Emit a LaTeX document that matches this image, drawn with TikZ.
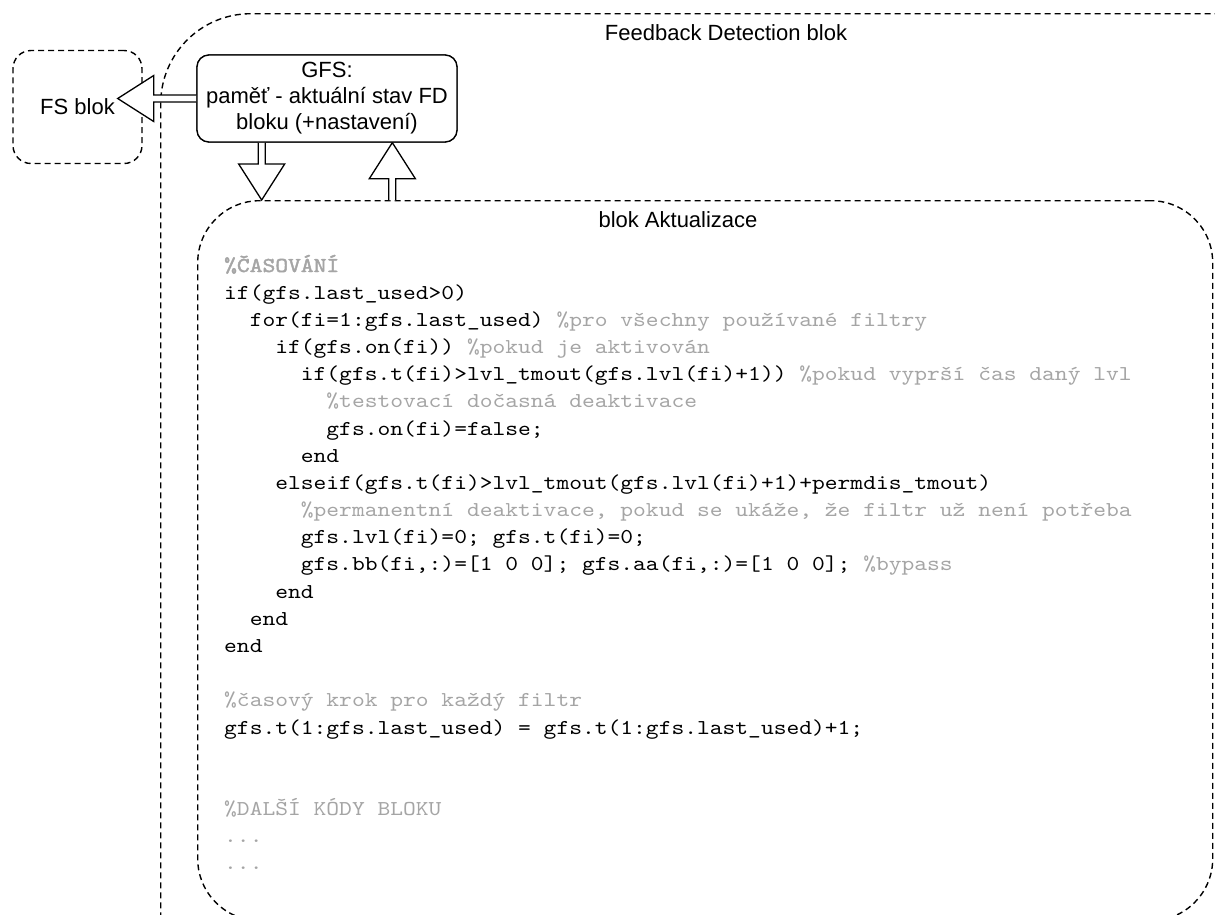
\documentclass[tikz,border=0pt]{standalone}
\usepackage{fontspec}
\setmainfont{Liberation Sans}
\newfontfamily\codefont{lmmono10-regular.otf}[FakeStretch=1.15, AutoFakeBold=2]
\usetikzlibrary{calc}

\definecolor{cmtgray}{RGB}{165,165,165}
\newcommand\cmt[1]{\textcolor{cmtgray}{#1}}

\tikzset{
  dashbox/.style={draw, line width=1.4pt, dash pattern=on 6pt off 4pt,
    rounded corners=#1, inner sep=0pt},
  dashbox/.default=15pt,
  memorybox/.style={draw, line width=1.3pt, rounded corners=12pt, fill=white,
    minimum width=260pt, minimum height=87pt, inner sep=0pt, align=center,
    font=\fontsize{22}{26}\selectfont},
  lbl/.style={inner sep=0pt, font=\fontsize{22}{26}\selectfont},
  codeln/.style={inner sep=0pt, anchor=base west,
    font=\codefont\fontsize{21.17}{27}\selectfont},
  flexarrow/.style={fill=white, draw=black, line width=1.3pt, line join=miter},
}

% hollow block arrow from #1 to the tip #2
\newcommand\flexarrow[2]{%
  \coordinate (fa-h) at ($(#2)!36pt!(#1)$);
  \path[flexarrow]
    ($(#1)!3.5pt!90:(#2)$) --
    ($(fa-h)!3.5pt!-90:(#1)$) --
    ($(fa-h)!23pt!-90:(#1)$) --
    (#2) --
    ($(fa-h)!23pt!90:(#1)$) --
    ($(fa-h)!3.5pt!90:(#1)$) --
    ($(#1)!3.5pt!-90:(#2)$);
}

% one line of code: name, line number, indentation (characters), text
\newcommand\codeline[4]{%
  \node[codeln] (#1) at (224+12.78*#3, 272+27.18*#2) {#4};
}

\begin{document}
\begin{tikzpicture}[x=1pt, y=-1pt]
  \useasboundingbox (0,0) rectangle (1215,914);
  \clip (0,0) rectangle (1215,914);

  % containers
  \node[dashbox=90pt, anchor=north west, minimum width=1150pt, minimum height=1000pt]
    (fd) at (160,13) {};
  \node[lbl, anchor=base] (fd-label) at (726,40) {Feedback Detection blok};

  \node[dashbox=18pt, minimum width=129pt, minimum height=113pt, lbl]
    (fs) at (77.5,107) {FS blok};

  \node[dashbox=62pt, anchor=north west, minimum width=1015pt, minimum height=720pt]
    (akt) at (197,200) {};
  \node[lbl, anchor=base] (akt-label) at (678,227) {blok Aktualizace};

  % shared memory
  \node[memorybox] (gfs) at (327,98.5)
    {GFS:\\paměť - aktuální stav FD\\bloku (+nastavení)};

  % data flow
  \coordinate (fs-in) at ($(fs.east |- gfs.west)+(-25,0)$);
  \flexarrow{gfs.west}{fs-in}

  \coordinate (down-from) at ($(gfs.south west)!0.25!(gfs.south east)$);
  \coordinate (down-to) at (down-from |- akt.north);
  \flexarrow{down-from}{down-to}

  \coordinate (up-to) at ($(gfs.south west)!0.75!(gfs.south east)$);
  \coordinate (up-from) at (up-to |- akt.north);
  \flexarrow{up-from}{up-to}

  \node[memorybox] at (gfs) {GFS:\\paměť - aktuální stav FD\\bloku (+nastavení)};

  % update code
  \codeline{c0}{0}{0}{\cmt{\textbf{\%ČASOVÁNÍ}}}
  \codeline{c1}{1}{0}{if(gfs.last\_used>0)}
  \codeline{c2}{2}{2}{for(fi=1:gfs.last\_used) \cmt{\%pro všechny používané filtry}}
  \codeline{c3}{3}{4}{if(gfs.on(fi)) \cmt{\%pokud je aktivován}}
  \codeline{c4}{4}{6}{if(gfs.t(fi)>lvl\_tmout(gfs.lvl(fi)+1)) \cmt{\%pokud vyprší čas daný lvl}}
  \codeline{c5}{5}{8}{\cmt{\%testovací dočasná deaktivace}}
  \codeline{c6}{6}{8}{gfs.on(fi)=false;}
  \codeline{c7}{7}{6}{end}
  \codeline{c8}{8}{4}{elseif(gfs.t(fi)>lvl\_tmout(gfs.lvl(fi)+1)+permdis\_tmout)}
  \codeline{c9}{9}{6}{\cmt{\%permanentní deaktivace, pokud se ukáže, že filtr už není potřeba}}
  \codeline{c10}{10}{6}{gfs.lvl(fi)=0; gfs.t(fi)=0;}
  \codeline{c11}{11}{6}{gfs.bb(fi,:)=[1 0 0]; gfs.aa(fi,:)=[1 0 0]; \cmt{\%bypass}}
  \codeline{c12}{12}{4}{end}
  \codeline{c13}{13}{2}{end}
  \codeline{c14}{14}{0}{end}
  \codeline{c16}{16}{0}{\cmt{\%časový krok pro každý filtr}}
  \codeline{c17}{17}{0}{gfs.t(1:gfs.last\_used) = gfs.t(1:gfs.last\_used)+1;}
  \codeline{c20}{20}{0}{\cmt{\%DALŠÍ KÓDY BLOKU}}
  \codeline{c21}{21}{0}{\cmt{...}}
  \codeline{c22}{22}{0}{\cmt{...}}
\end{tikzpicture}
\end{document}
